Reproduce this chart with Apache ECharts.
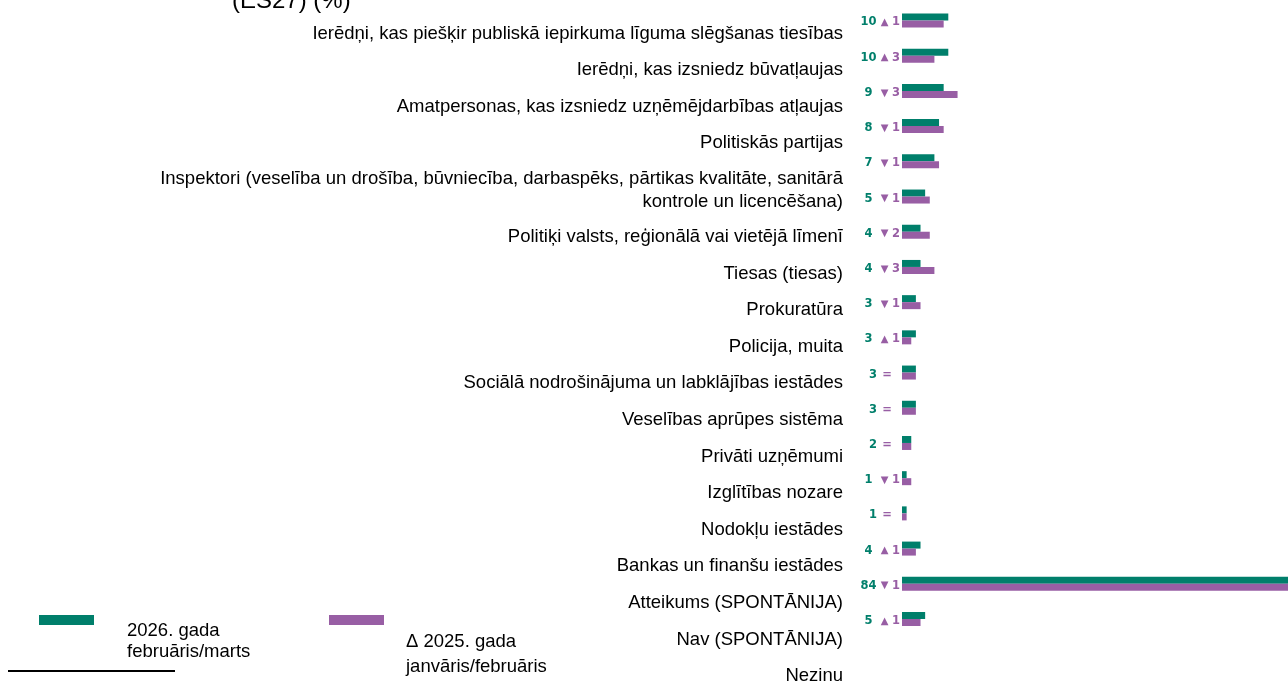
<!DOCTYPE html>
<html>
<head>
<meta charset="utf-8">
<script src="https://cdn.jsdelivr.net/npm/echarts@6/dist/echarts.min.js"></script>
<style>
  html, body { margin: 0; padding: 0; background: #ffffff; }
  #chart { width: 1288px; height: 683px; }
</style>
</head>
<body>
<div id="chart"></div>
<script>
// Institutions, top to bottom
const categories = [
  'Ierēdņi, kas piešķir publiskā iepirkuma līguma slēgšanas tiesības',
  'Ierēdņi, kas izsniedz būvatļaujas',
  'Amatpersonas, kas izsniedz uzņēmējdarbības atļaujas',
  'Politiskās partijas',
  'Inspektori (veselība un drošība, būvniecība, darbaspēks, pārtikas kvalitāte, sanitārā\nkontrole un licencēšana)',
  'Politiķi valsts, reģionālā vai vietējā līmenī',
  'Tiesas (tiesas)',
  'Prokuratūra',
  'Policija, muita',
  'Sociālā nodrošinājuma un labklājības iestādes',
  'Veselības aprūpes sistēma',
  'Privāti uzņēmumi',
  'Izglītības nozare',
  'Nodokļu iestādes',
  'Bankas un finanšu iestādes',
  'Atteikums (SPONTĀNIJA)',
  'Nav (SPONTĀNIJA)',
  'Nezinu'
];

// Share in 2026 Feb/Mar (%)
const current2026 = [10, 10, 9, 8, 7, 5, 4, 4, 3, 3, 3, 3, 2, 1, 1, 4, 84, 5];
// Change in points versus 2025 Jan/Feb (positive = up, negative = down, 0 = unchanged)
const changeVs2025 = [1, 3, -3, -1, -1, -1, -2, -3, -1, 1, 0, 0, 0, -1, 0, 1, -1, 1];
// 2025 level implied by the stated change
const previous2025 = current2026.map((v, i) => v - changeVs2025[i]);

const seriesNames = ['2026. gada\nfebruāris/marts', 'Δ 2025. gada\njanvāris/februāris'];
const title = '(ES27) (%)';

const GREEN = '#007f6b';
const PURPLE = '#985ea4';
const LABEL_FONT = '"Liberation Sans", Arial, sans-serif';
const NUM_FONT = '"DejaVu Sans", Verdana, sans-serif';

const chart = echarts.init(document.getElementById('chart'), null, { renderer: 'canvas' });

chart.setOption({
  animation: false,
  backgroundColor: '#ffffff',
  title: {
    text: title,
    left: 232,
    top: -11,
    padding: 0,
    textStyle: { fontFamily: LABEL_FONT, fontSize: 24, fontWeight: 'normal', color: '#000' }
  },
  legend: [
    {
      data: [seriesNames[0]],
      left: 39,
      top: 577.5,
      padding: 0,
      itemWidth: 55,
      itemHeight: 10,
      icon: 'rect',
      selectedMode: false,
      // blank spacer line drops the two text lines below the swatch
      formatter: (name) => '{sp|\u00a0}\n' + name,
      textStyle: {
        fontFamily: LABEL_FONT, fontSize: 18.5, lineHeight: 21, color: '#000',
        padding: [0, 0, 0, 28],
        rich: { sp: { lineHeight: 43, fontSize: 10 } }
      }
    },
    {
      data: [seriesNames[1]],
      left: 329,
      top: 560.5,
      padding: 0,
      itemWidth: 55,
      itemHeight: 10,
      icon: 'rect',
      selectedMode: false,
      formatter: (name) => '{sp|\u00a0}\n' + name,
      textStyle: {
        fontFamily: LABEL_FONT, fontSize: 18.5, lineHeight: 25, color: '#000',
        padding: [0, 0, 0, 17],
        rich: { sp: { lineHeight: 69, fontSize: 10 } }
      }
    }
  ],
  grid: [
    { left: 902, top: 2.9, width: 463, height: 633.7, outerBoundsMode: 'none', containLabel: false },
    { left: 851, top: 35.8, width: 10, height: 658.5, outerBoundsMode: 'none', containLabel: false }
  ],
  xAxis: [
    { type: 'value', gridIndex: 0, min: 0, max: 100, show: false },
    { type: 'value', gridIndex: 1, min: 0, max: 1, show: false }
  ],
  yAxis: [
    {
      type: 'category', gridIndex: 0, inverse: true, data: categories,
      show: false
    },
    {
      type: 'category', gridIndex: 1, inverse: true, data: categories,
      axisLine: { show: false },
      axisTick: { show: false },
      splitLine: { show: false },
      axisLabel: {
        interval: 0,
        margin: 8,
        align: 'right',
        fontFamily: LABEL_FONT,
        fontSize: 18.5,
        lineHeight: 23,
        color: '#000',
        // labels stack like flowing text: rows above the two-line one sit higher
        formatter: (value, index) => {
          if (index < 4) return value + '\n{sp|\u00a0}';
          if (index === 4) return value + '\n{sp2|\u00a0}';
          return value;
        },
        rich: {
          sp: { lineHeight: 41, fontSize: 10 },
          sp2: { lineHeight: 20, fontSize: 10 }
        }
      }
    }
  ],
  series: [
    {
      name: seriesNames[0],
      type: 'bar',
      xAxisIndex: 0,
      yAxisIndex: 0,
      data: current2026,
      barWidth: 7,
      barGap: '0%',
      itemStyle: { color: GREEN },
      silent: true
    },
    {
      name: seriesNames[1],
      type: 'bar',
      xAxisIndex: 0,
      yAxisIndex: 0,
      data: previous2025,
      barWidth: 7,
      barGap: '0%',
      itemStyle: { color: PURPLE },
      silent: true,
      label: {
        show: true,
        position: 'left',
        distance: 2,
        offset: [0, -1.5],
        formatter: (p) => {
          const i = p.dataIndex;
          const d = changeVs2025[i];
          if (d === 0) {
            return '{g|' + current2026[i] + '}{e|=}{p|\u00a0}';
          }
          return '{g|' + current2026[i] + '}{a|' + (d > 0 ? '▲' : '▼') + '}{p|' + Math.abs(d) + '}';
        },
        rich: {
          g: { fontFamily: NUM_FONT, fontWeight: 'bold', fontSize: 11.5, color: GREEN, width: 17, align: 'right' },
          a: { fontFamily: NUM_FONT, fontSize: 10, color: PURPLE, width: 15, align: 'left' },
          e: { fontFamily: NUM_FONT, fontWeight: 'bold', fontSize: 11.5, color: PURPLE, width: 15, align: 'right' },
          p: { fontFamily: NUM_FONT, fontWeight: 'bold', fontSize: 11.5, color: PURPLE, width: 8, align: 'right' }
        }
      }
    }
  ],
  graphic: [
    {
      type: 'line',
      silent: true,
      shape: { x1: 8, y1: 671, x2: 175, y2: 671 },
      style: { stroke: '#000', lineWidth: 2 }
    }
  ]
});
</script>
</body>
</html>
